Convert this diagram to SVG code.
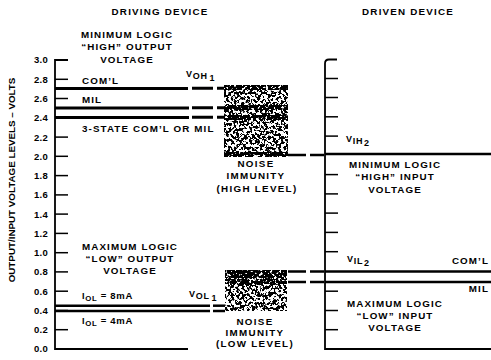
<svg xmlns="http://www.w3.org/2000/svg" width="491" height="360" viewBox="0 0 491 360">
<style>
text { font-family: 'Liberation Sans', Arial, sans-serif; font-weight: bold; fill: #000; }
.t { font-size: 9.8px; letter-spacing: 1.1px; }
.m { font-size: 9.8px; letter-spacing: 1.1px; text-anchor: middle; }
.w { font-size: 9.8px; letter-spacing: 1.3px; text-anchor: middle; }
.h { font-size: 9.8px; letter-spacing: 1.2px; text-anchor: middle; }
.e { font-size: 9.8px; letter-spacing: 1.1px; text-anchor: end; }
.n { font-size: 9.5px; letter-spacing: 0.3px; text-anchor: end; }
.v { font-size: 9px; letter-spacing: 0.7px; }
.ax { fill: none; stroke: #000; stroke-width: 1.8; }
.tk { stroke: #000; stroke-width: 1.5; }
.th { stroke: #000; stroke-width: 3; fill: none; }
.md { stroke: #000; stroke-width: 2.5; fill: none; }
.d1 { stroke: #000; stroke-width: 3; fill: none; stroke-dasharray: 21 4; }
.d2 { stroke: #000; stroke-width: 2.7; fill: none; stroke-dasharray: 18 4; }
</style>
<defs>
<filter id="speck" x="0" y="0" width="1" height="1" color-interpolation-filters="sRGB">
<feTurbulence type="fractalNoise" baseFrequency="0.38" numOctaves="3" seed="7"/>
<feColorMatrix type="matrix" values="0 0 0 0 0 0 0 0 0 0 0 0 0 0 0 1 0 0 0 0"/>
<feComponentTransfer><feFuncA type="linear" slope="22" intercept="-10.6"/></feComponentTransfer>
</filter>
<filter id="dense" x="0" y="0" width="1" height="1" color-interpolation-filters="sRGB">
<feTurbulence type="fractalNoise" baseFrequency="0.38" numOctaves="3" seed="11"/>
<feColorMatrix type="matrix" values="0 0 0 0 0 0 0 0 0 0 0 0 0 0 0 1 0 0 0 0"/>
<feComponentTransfer><feFuncA type="linear" slope="22" intercept="-9"/></feComponentTransfer>
</filter>
</defs>
<rect width="491" height="360" fill="#fff"/>

<g id="headers">
<text class="h" x="160" y="15">DRIVING DEVICE</text>
<text class="h" x="408" y="15">DRIVEN DEVICE</text>
</g>

<g id="y-axis-label">
<text transform="translate(15,180) rotate(-90)" style="font-size:9.8px;text-anchor:middle">OUTPUT/INPUT VOLTAGE LEVELS – VOLTS</text>
</g>

<g id="left-axis">
<path class="ax" d="M68,60 H55 V349 H188"/>
<g class="tk">
<line x1="55" y1="79.3" x2="68" y2="79.3"/>
<line x1="55" y1="98.5" x2="68" y2="98.5"/>
<line x1="55" y1="117.8" x2="68" y2="117.8"/>
<line x1="55" y1="137.1" x2="68" y2="137.1"/>
<line x1="55" y1="156.3" x2="68" y2="156.3"/>
<line x1="55" y1="175.6" x2="68" y2="175.6"/>
<line x1="55" y1="194.9" x2="68" y2="194.9"/>
<line x1="55" y1="214.1" x2="68" y2="214.1"/>
<line x1="55" y1="233.4" x2="68" y2="233.4"/>
<line x1="55" y1="252.7" x2="68" y2="252.7"/>
<line x1="55" y1="271.9" x2="68" y2="271.9"/>
<line x1="55" y1="291.2" x2="68" y2="291.2"/>
<line x1="55" y1="310.5" x2="68" y2="310.5"/>
<line x1="55" y1="329.7" x2="68" y2="329.7"/>
</g>
<g id="tick-labels">
<text class="n" x="48" y="63.4">3.0</text>
<text class="n" x="48" y="82.7">2.8</text>
<text class="n" x="48" y="101.9">2.6</text>
<text class="n" x="48" y="121.2">2.4</text>
<text class="n" x="48" y="140.5">2.2</text>
<text class="n" x="48" y="159.7">2.0</text>
<text class="n" x="48" y="179">1.8</text>
<text class="n" x="48" y="198.3">1.6</text>
<text class="n" x="48" y="217.5">1.4</text>
<text class="n" x="48" y="236.8">1.2</text>
<text class="n" x="48" y="256.1">1.0</text>
<text class="n" x="48" y="275.3">0.8</text>
<text class="n" x="48" y="294.6">0.6</text>
<text class="n" x="48" y="313.9">0.4</text>
<text class="n" x="48" y="333.1">0.2</text>
<text class="n" x="48" y="352.4">0.0</text>
</g>
</g>

<g id="right-axis">
<path class="ax" d="M337,59.5 H329 Q325,59.5 325,63.5 V349 H491"/>
<g class="tk">
<line x1="325" y1="78.5" x2="338" y2="78.5"/>
<line x1="325" y1="97.5" x2="338" y2="97.5"/>
<line x1="325" y1="116.8" x2="338" y2="116.8"/>
<line x1="325" y1="136.1" x2="338" y2="136.1"/>
<line x1="325" y1="174.6" x2="338" y2="174.6"/>
<line x1="325" y1="193.9" x2="338" y2="193.9"/>
<line x1="325" y1="213.1" x2="338" y2="213.1"/>
<line x1="325" y1="232.4" x2="338" y2="232.4"/>
<line x1="325" y1="251.7" x2="338" y2="251.7"/>
<line x1="325" y1="291.2" x2="338" y2="291.2"/>
<line x1="325" y1="310.5" x2="338" y2="310.5"/>
<line x1="325" y1="329.7" x2="338" y2="329.7"/>
</g>
</g>

<g id="noise-high">
<rect x="224" y="85" width="64" height="71" fill="#000" filter="url(#speck)"/>
<rect x="224" y="85" width="64" height="5" fill="#000" filter="url(#dense)"/>
<rect x="224" y="105" width="64" height="5" fill="#000" filter="url(#dense)"/>
<rect x="224" y="115" width="64" height="5" fill="#000" filter="url(#dense)"/>
<rect x="224" y="152" width="64" height="5" fill="#000" filter="url(#dense)"/>
</g>
<g id="noise-low">
<rect x="225" y="270" width="62" height="41" fill="#000" filter="url(#speck)"/>
<rect x="225" y="270" width="62" height="8" fill="#000" filter="url(#dense)"/>
<rect x="225" y="279" width="62" height="5" fill="#000" filter="url(#dense)"/>
</g>

<g id="connectors">
<path class="th" d="M55,88.5 H188"/>
<path class="d1" d="M192,88.2 H224"/>
<path class="th" d="M55,108 H189"/>
<path class="d1" d="M192,107.8 H224"/>
<path class="th" d="M55,117.5 H189"/>
<path class="d1" d="M192,117.3 H224"/>
<path class="d2" d="M288,155 H324"/>
<path class="md" d="M325,154 H491"/>
<path class="d2" d="M288,271.5 H324"/>
<path class="md" d="M325,271.5 H491"/>
<path class="d2" d="M288,282 H324"/>
<path class="md" d="M325,282 H491"/>
<path class="md" d="M55,305.7 H210"/>
<path class="md" d="M213,305.7 H225"/>
<path class="md" d="M55,311 H210"/>
<path class="md" d="M213,311 H225"/>
</g>

<g id="driving-high-labels">
<text class="m" x="127" y="38">MINIMUM LOGIC</text>
<text class="m" x="127" y="50">“HIGH” OUTPUT</text>
<text class="m" x="127" y="62.5">VOLTAGE</text>
<text class="t" x="82" y="83.5">COM’L</text>
<text class="t" x="82" y="103">MIL</text>
<text class="t" x="82" y="131.5">3-STATE COM’L OR MIL</text>
<text class="v" x="186" y="76.5">V<tspan dy="2">OH</tspan><tspan dx="2" dy="2">1</tspan></text>
</g>

<g id="noise-high-label">
<text class="w" x="256" y="167">NOISE</text>
<text class="w" x="256" y="179">IMMUNITY</text>
<text class="w" x="257" y="192">(HIGH LEVEL)</text>
</g>

<g id="driven-high-labels">
<text class="v" x="346" y="142">V<tspan dy="2">IH</tspan><tspan dx="1" dy="2">2</tspan></text>
<text class="m" x="395" y="168">MINIMUM LOGIC</text>
<text class="m" x="395" y="180">“HIGH” INPUT</text>
<text class="m" x="395" y="193">VOLTAGE</text>
</g>

<g id="driving-low-labels">
<text class="m" x="130" y="250">MAXIMUM LOGIC</text>
<text class="m" x="130" y="262">“LOW” OUTPUT</text>
<text class="m" x="130" y="273.5">VOLTAGE</text>
<text class="v" x="82" y="299">I<tspan dy="2" style="font-size:7.8px">OL</tspan><tspan dy="-2" style="font-size:9.5px"> = 8mA</tspan></text>
<text class="v" x="82" y="324">I<tspan dy="2" style="font-size:7.8px">OL</tspan><tspan dy="-2" style="font-size:9.5px"> = 4mA</tspan></text>
<text class="v" x="189" y="297">V<tspan dy="2">OL</tspan><tspan dx="2" dy="2">1</tspan></text>
</g>

<g id="noise-low-label">
<text class="w" x="255" y="325">NOISE</text>
<text class="w" x="255" y="336">IMMUNITY</text>
<text class="w" x="255" y="347">(LOW LEVEL)</text>
</g>

<g id="driven-low-labels">
<text class="v" x="347" y="262">V<tspan dy="2">IL</tspan><tspan dx="1" dy="2">2</tspan></text>
<text class="e" x="489" y="264">COM’L</text>
<text class="e" x="489" y="292">MIL</text>
<text class="m" x="395" y="307">MAXIMUM LOGIC</text>
<text class="m" x="395" y="318.5">“LOW” INPUT</text>
<text class="m" x="395" y="331">VOLTAGE</text>
</g>
</svg>
